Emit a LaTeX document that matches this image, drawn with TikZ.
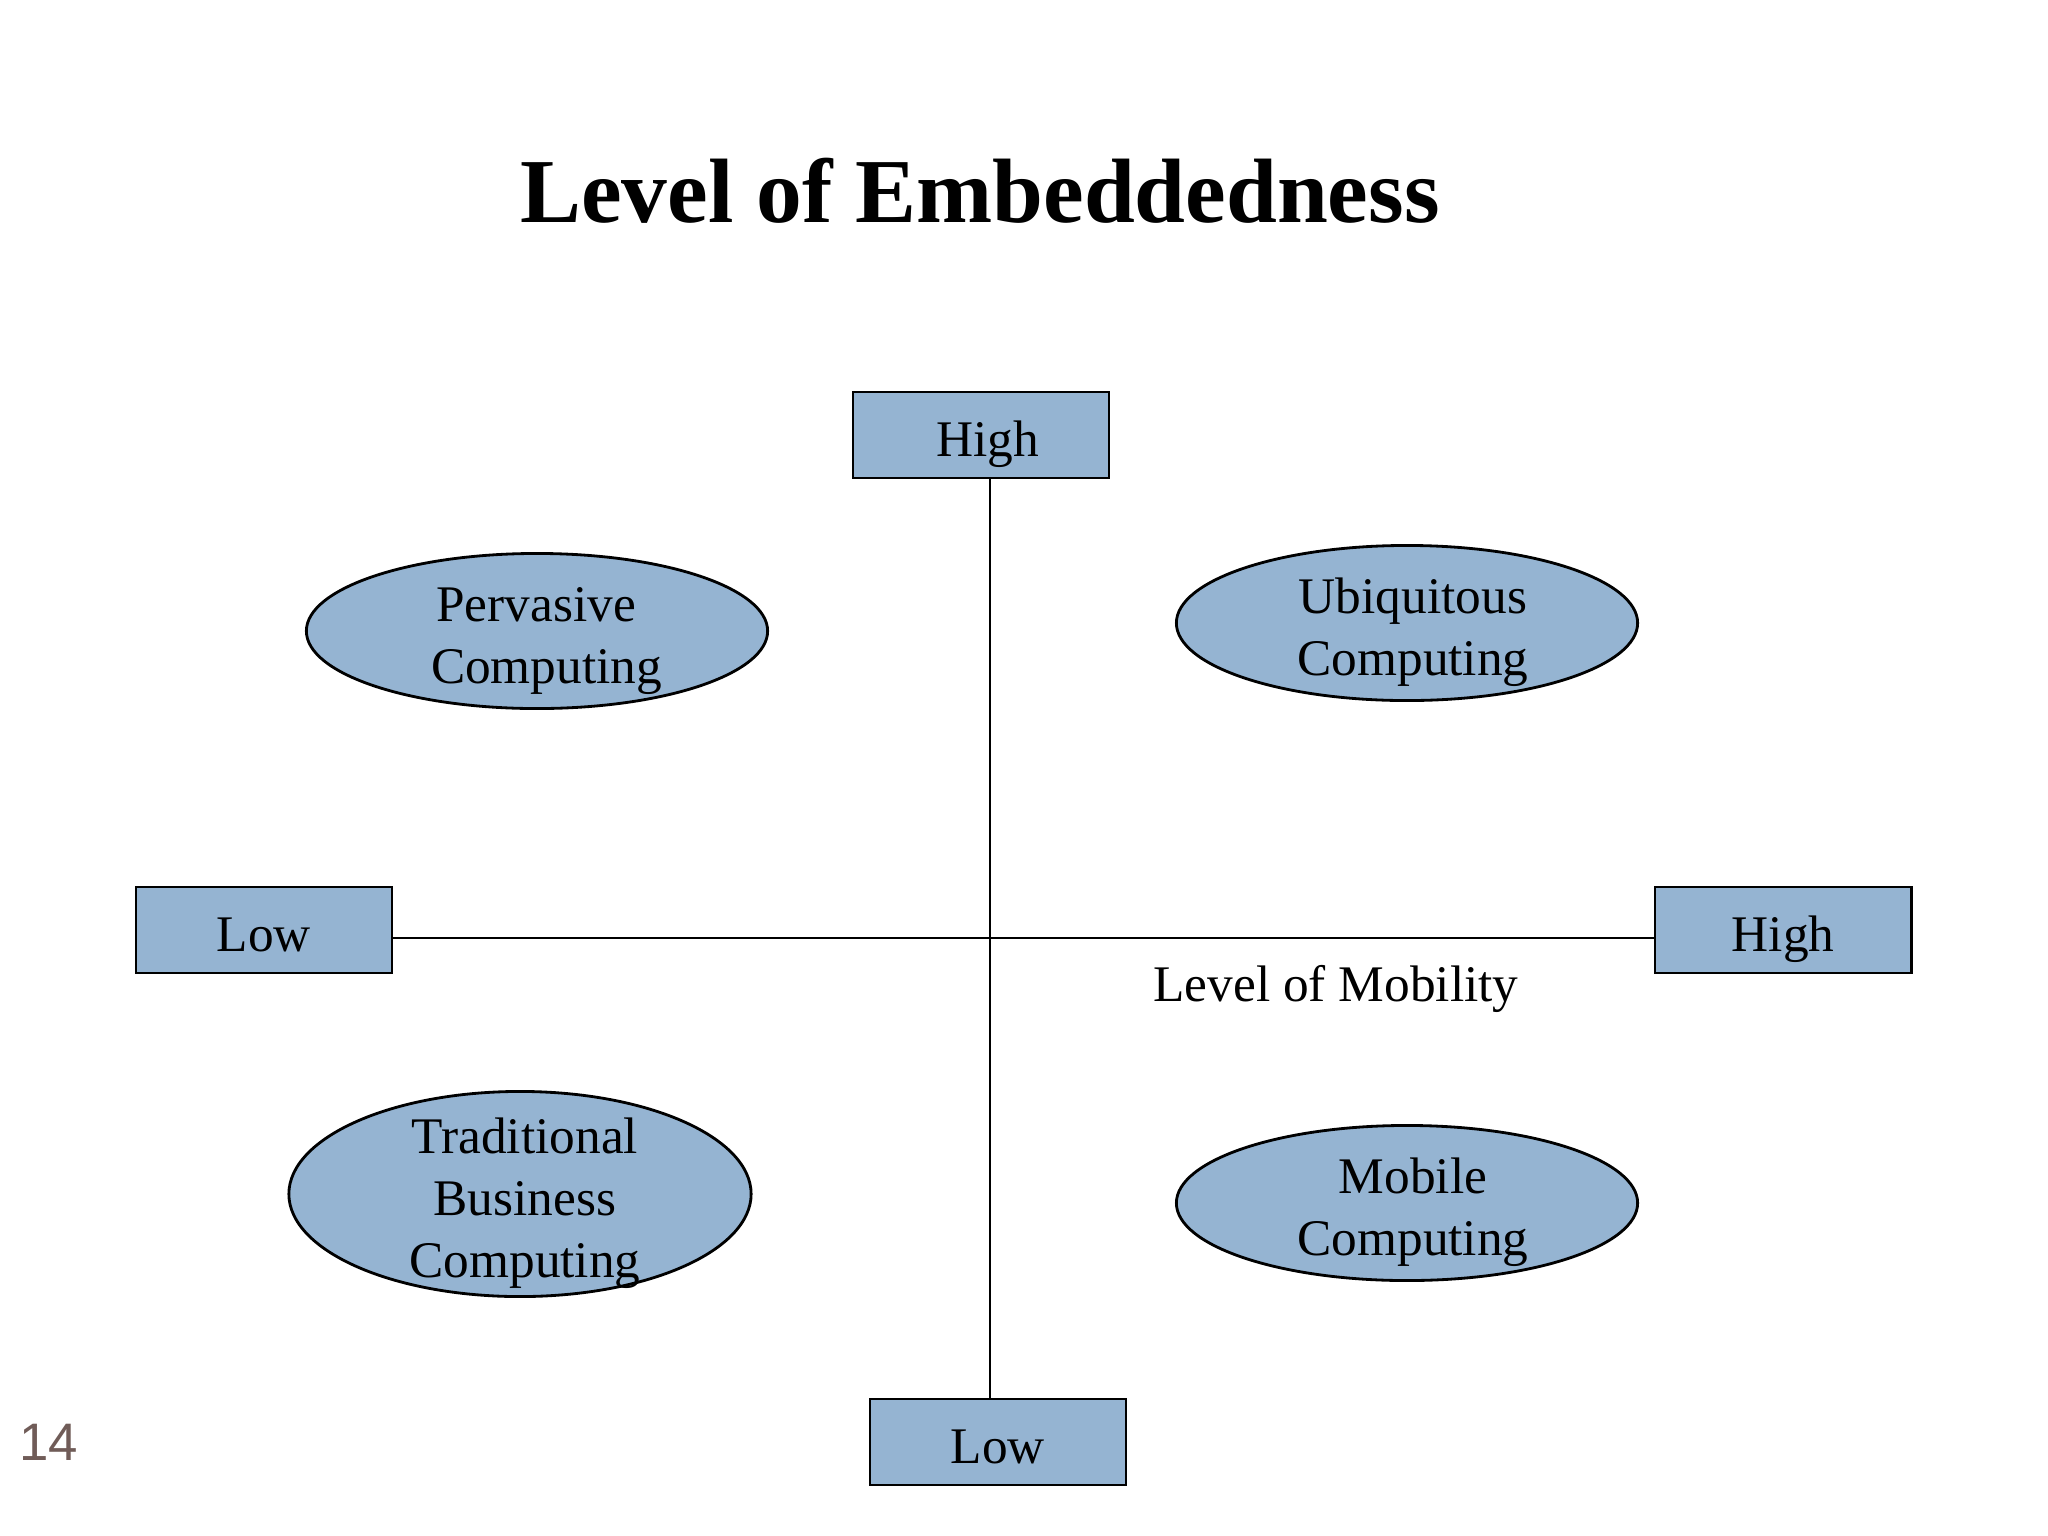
\documentclass[tikz,border=0pt]{standalone}
\usepackage{fontspec}
\setmainfont{Liberation Serif}
\newfontfamily\pgnumfont{Liberation Sans}
\usetikzlibrary{shapes.geometric}
\definecolor{boxfill}{RGB}{149,180,210}
\definecolor{pgnum}{RGB}{112,92,88}
\tikzset{
  lbl/.style={font=\fontsize{14.6}{17.6}\selectfont, align=center, inner sep=0pt},
  axisbox/.style={draw=black, line width=0.8pt, fill=boxfill, rectangle, minimum width=2.56cm, minimum height=0.86cm, inner sep=0pt, lbl, text height=15.2pt, text depth=3pt},
  quad/.style={draw=black, line width=0.8pt, fill=boxfill, ellipse, minimum width=4.61cm, minimum height=1.55cm, inner sep=0pt},
  axisline/.style={draw=black, line width=0.7pt}
}
\begin{document}
\begin{tikzpicture}[x=0.01cm,y=-0.01cm]
\useasboundingbox[fill=white] (0,0) rectangle (2048,1536);
\node[font=\fontsize{26}{30}\selectfont\bfseries] (title) at (980,191) {Level of Embeddedness};
\node[axisbox] (top) at (981,435) {\hspace*{3.8pt}High};
\node[axisbox] (left) at (264,930) {Low};
\node[axisbox] (right) at (1783,930) {High};
\node[axisbox] (bot) at (998,1442) {Low};
\coordinate (vx) at (990,938);
\draw[axisline] (top.south -| vx) -- (bot.north -| vx);
\draw[axisline] (left.east |- vx) -- (right.west |- vx);
\node[lbl] (mob) at (1336,989) {Level of Mobility};
\node[quad] (perv) at (537,631) {};
\node[lbl] (pervT) at (536,641) {Pervasive\\\hspace*{6pt}Computing};
\node[quad] (ubiq) at (1407,623) {};
\node[lbl] (ubiqT) at (1413,632) {Ubiquitous\\Computing};
\node[quad, minimum width=4.62cm, minimum height=2.05cm] (trad) at (520,1194) {};
\node[lbl] (tradT) at (525,1203) {Traditional\\Business\\Computing};
\node[quad] (mobc) at (1407,1203) {};
\node[lbl] (mobcT) at (1413,1212) {Mobile\\Computing};
\node[font=\pgnumfont\fontsize{15}{18}\selectfont, text=pgnum] (pg) at (49,1442) {14};
\end{tikzpicture}
\end{document}
